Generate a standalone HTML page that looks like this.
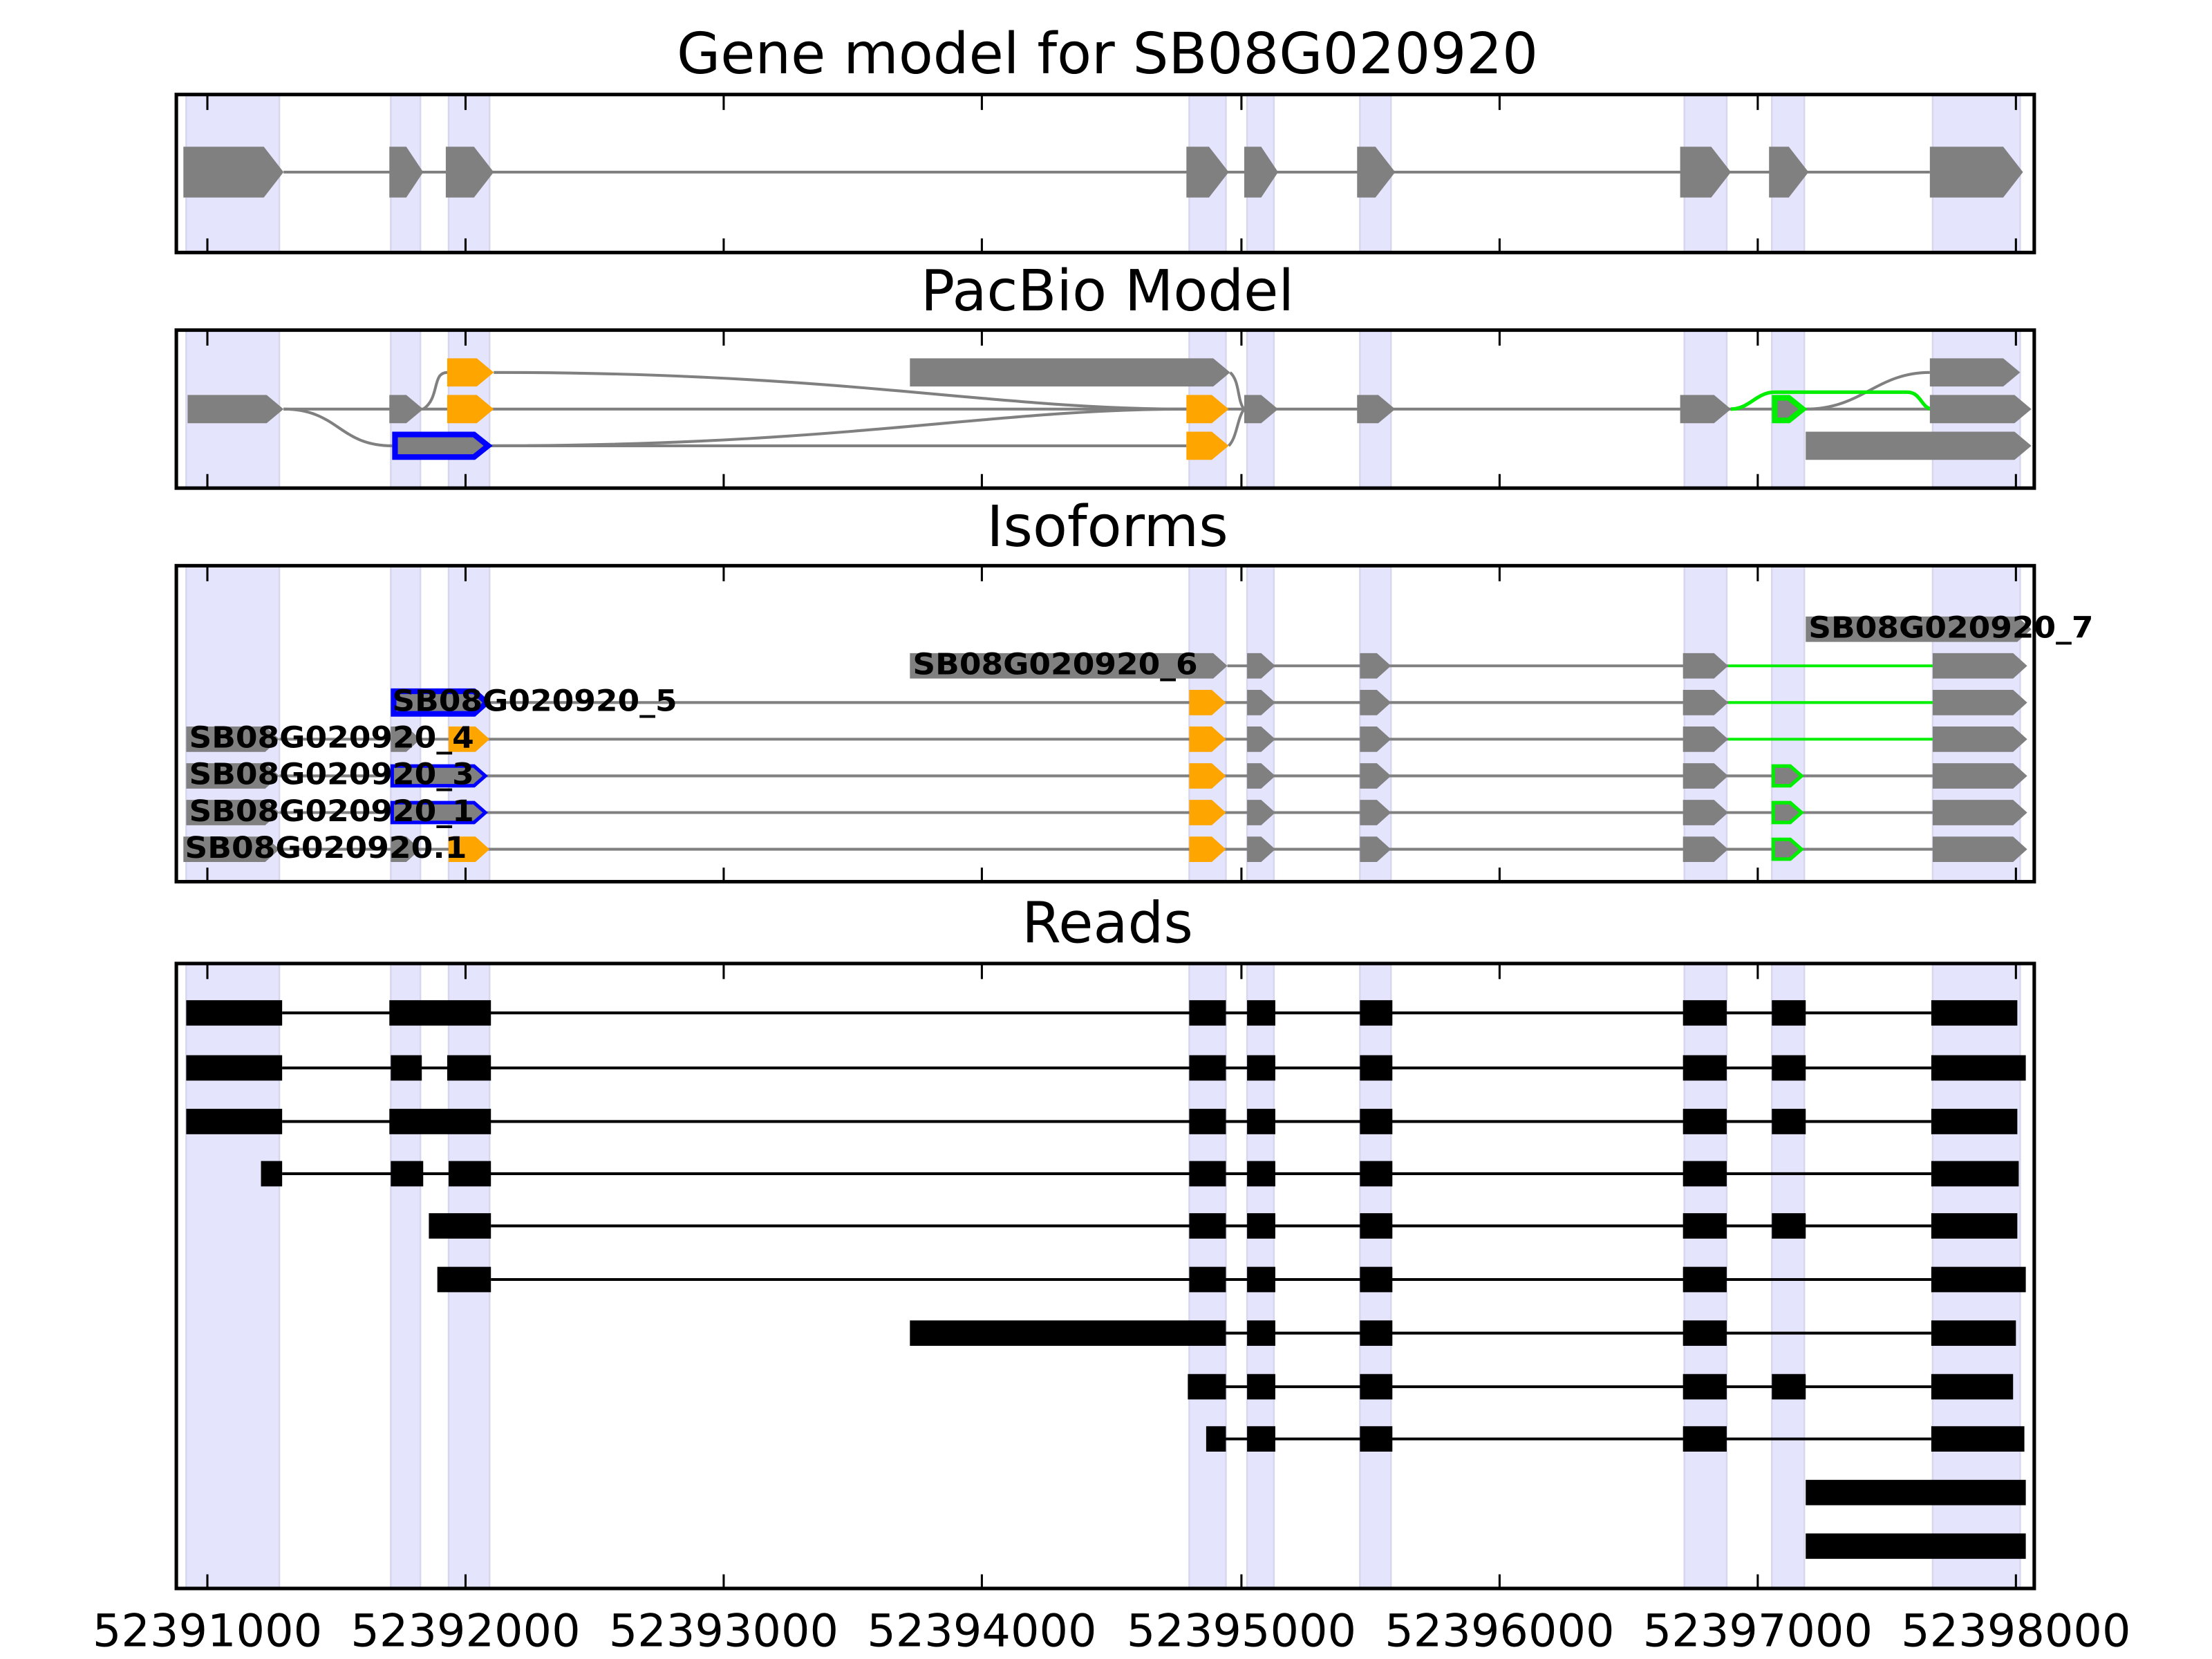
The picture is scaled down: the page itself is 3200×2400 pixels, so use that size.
<!DOCTYPE html>
<html><head><meta charset="utf-8"><style>html,body{margin:0;padding:0;background:#fff}svg{display:block}</style></head>
<body>
<svg xmlns="http://www.w3.org/2000/svg" width="3200" height="2400" viewBox="0 0 1568 1176" preserveAspectRatio="none">
<defs>
<clipPath id="panels">
<rect x="125" y="67" width="1317" height="112"/>
<rect x="125" y="234" width="1317" height="112"/>
<rect x="125" y="401" width="1317" height="224"/>
<rect x="125" y="683" width="1317" height="443"/>
</clipPath>
</defs>
<g fill="#e4e4fc" stroke="#d6d6ee" stroke-width="1.2" clip-path="url(#panels)">
<rect x="132" y="0" width="66" height="1176"/><rect x="277" y="0" width="21" height="1176"/><rect x="318" y="0" width="29" height="1176"/><rect x="843" y="0" width="26" height="1176"/><rect x="884" y="0" width="19" height="1176"/><rect x="964" y="0" width="22" height="1176"/><rect x="1194" y="0" width="30" height="1176"/><rect x="1256" y="0" width="23" height="1176"/><rect x="1370" y="0" width="62" height="1176"/>
</g>
<g font-family="DejaVu Sans, Liberation Sans, sans-serif" fill="#000" text-anchor="middle">
<text x="785" y="52" font-size="40">Gene model for SB08G020920</text>
<text x="785" y="220" font-size="40">PacBio Model</text>
<text x="785" y="387" font-size="40">Isoforms</text>
<text x="785" y="668" font-size="40">Reads</text>
<g font-size="32">
<text x="147" y="1167">52391000</text><text x="330" y="1167">52392000</text><text x="513" y="1167">52393000</text><text x="696" y="1167">52394000</text><text x="880" y="1167">52395000</text><text x="1063" y="1167">52396000</text><text x="1246" y="1167">52397000</text><text x="1429" y="1167">52398000</text>
</g></g>
<g stroke="#000" stroke-width="1.5">
<path d="M147,68v10M330,68v10M513,68v10M696,68v10M880,68v10M1063,68v10M1246,68v10M1429,68v10M147,179v-10M330,179v-10M513,179v-10M696,179v-10M880,179v-10M1063,179v-10M1246,179v-10M1429,179v-10"/>
<path transform="translate(0,167)" d="M147,68v10M330,68v10M513,68v10M696,68v10M880,68v10M1063,68v10M1246,68v10M1429,68v10M147,179v-10M330,179v-10M513,179v-10M696,179v-10M880,179v-10M1063,179v-10M1246,179v-10M1429,179v-10"/>
<path d="M147,402v10M330,402v10M513,402v10M696,402v10M880,402v10M1063,402v10M1246,402v10M1429,402v10M147,625v-10M330,625v-10M513,625v-10M696,625v-10M880,625v-10M1063,625v-10M1246,625v-10M1429,625v-10"/>
<path d="M147,684v10M330,684v10M513,684v10M696,684v10M880,684v10M1063,684v10M1246,684v10M1429,684v10M147,1126v-10M330,1126v-10M513,1126v-10M696,1126v-10M880,1126v-10M1063,1126v-10M1246,1126v-10M1429,1126v-10"/>
</g>

<!-- Panel 1 -->
<path d="M201,122H1368" stroke="#808080" stroke-width="2" fill="none"/>
<g fill="#808080">
<polygon points="130,104 187,104 201,122 187,140 130,140"/>
<polygon points="276,104 288,104 300,122 288,140 276,140"/>
<polygon points="316,104 336,104 350,122 336,140 316,140"/>
<polygon points="841,104 857,104 871,122 857,140 841,140"/>
<polygon points="882,104 894,104 906,122 894,140 882,140"/>
<polygon points="962,104 975,104 989,122 975,140 962,140"/>
<polygon points="1191,104 1213,104 1227,122 1213,140 1191,140"/>
<polygon points="1254,104 1268,104 1282,122 1268,140 1254,140"/>
<polygon points="1368,104 1420,104 1434,122 1420,140 1368,140"/>
</g>

<!-- Panel 2 -->
<g stroke="#808080" stroke-width="2" fill="none">
<path d="M201,290H1368"/>
<path d="M201,290 C240,290 240,316 278,316"/>
<path d="M300,290 C312,282 306,264 317,264"/>
<path d="M350,264 C600,264 700,290 841,290"/>
<path d="M348,316 C600,316 700,290 841,290"/>
<path d="M348,316 H841"/>
<path d="M872,264 C879,270 877,285 882,290"/>
<path d="M871,316 C877,310 877,296 882,290"/>
<path d="M1280,290 C1320,290 1330,264 1368,264"/>
</g>
<path d="M1227,290 C1240,290 1245,278 1258,278 L1352,278 C1362,278 1362,290 1370,290" stroke="#00ee00" stroke-width="2.5" fill="none"/>
<g fill="#808080">
<polygon points="645,254 860,254 872,264 860,274 645,274"/>
<polygon points="1368,254 1420,254 1432,264 1420,274 1368,274"/>
<polygon points="133,280 189,280 201,290 189,300 133,300"/>
<polygon points="276,280 288,280 300,290 288,300 276,300"/>
<polygon points="882,280 894,280 906,290 894,300 882,300"/>
<polygon points="962,280 977,280 989,290 977,300 962,300"/>
<polygon points="1191,280 1215,280 1227,290 1215,300 1191,300"/>
<polygon points="1368,280 1428,280 1440,290 1428,300 1368,300"/>
<polygon points="1280,306 1428,306 1440,316 1428,326 1280,326"/>
<polygon points="1258,282 1268,282 1278,290 1268,298 1258,298" stroke="#00ee00" stroke-width="4"/>
<polygon points="280,308 336,308 346,316 336,324 280,324" stroke="#0000ff" stroke-width="4"/>
</g>
<g fill="#ffa500">
<polygon points="317,254 338,254 350,264 338,274 317,274"/>
<polygon points="317,280 338,280 350,290 338,300 317,300"/>
<polygon points="841,280 859,280 871,290 859,300 841,300"/>
<polygon points="841,306 859,306 871,316 859,326 841,326"/>
</g>

<!-- Panel 3 -->
<g stroke="#808080" stroke-width="2" fill="none">
<path d="M870,472H1225"/>
<path d="M346,498H1225"/>
<path d="M198,524H1225"/>
<path d="M198,550H1370"/>
<path d="M198,576H1370"/>
<path d="M198,602H1370"/>
</g>
<g stroke="#00ee00" stroke-width="2" fill="none">
<path d="M1225,472H1370M1225,498H1370M1225,524H1370"/>
</g>
<g fill="#808080">
<polygon points="1280,437 1430,437 1440,446 1430,455 1280,455"/>
<polygon points="645,463 860,463 870,472 860,481 645,481"/>
<polygon points="132,515 188,515 198,524 188,533 132,533"/>
<polygon points="277,515 288,515 298,524 288,533 277,533"/>
<polygon points="132,541 188,541 198,550 188,559 132,559"/>
<polygon points="132,567 188,567 198,576 188,585 132,585"/>
<polygon points="130,593 188,593 198,602 188,611 130,611"/>
<polygon points="277,593 288,593 298,602 288,611 277,611"/>
</g>
<g id="tail" fill="#808080">
<polygon points="884,463 894,463 904,472 894,481 884,481"/>
<polygon points="964,463 976,463 986,472 976,481 964,481"/>
<polygon points="1193,463 1215,463 1225,472 1215,481 1193,481"/>
<polygon points="1370,463 1427,463 1437,472 1427,481 1370,481"/>
</g>
<use href="#tail" transform="translate(0,26)"/>
<use href="#tail" transform="translate(0,52)"/>
<use href="#tail" transform="translate(0,78)"/>
<use href="#tail" transform="translate(0,104)"/>
<use href="#tail" transform="translate(0,130)"/>
<g fill="#808080" stroke="#0000ff">
<polygon points="279,490 336,490 345,498 336,506 279,506" stroke-width="4"/>
<polygon points="278,543 336,543 344,550 336,557 278,557" stroke-width="2.5"/>
<polygon points="278,569 336,569 344,576 336,583 278,583" stroke-width="2.5"/>
</g>
<g fill="#808080" stroke="#00ee00" stroke-width="2.5">
<polygon points="1257,543 1269,543 1277,550 1269,557 1257,557"/>
<polygon points="1257,569 1269,569 1277,576 1269,583 1257,583"/>
<polygon points="1257,595 1269,595 1277,602 1269,609 1257,609"/>
</g>
<g fill="#ffa500">
<polygon points="318,515 337,515 347,524 337,533 318,533"/>
<polygon points="318,593 337,593 347,602 337,611 318,611"/>
<polygon points="843,489 859,489 869,498 859,507 843,507"/>
<polygon points="843,515 859,515 869,524 859,533 843,533"/>
<polygon points="843,541 859,541 869,550 859,559 843,559"/>
<polygon points="843,567 859,567 869,576 859,585 843,585"/>
<polygon points="843,593 859,593 869,602 859,611 843,611"/>
</g>
<g font-family="DejaVu Sans, Liberation Sans, sans-serif" font-weight="bold" font-size="21" fill="#000">
<text x="1282" y="452" textLength="202" lengthAdjust="spacingAndGlyphs">SB08G020920_7</text>
<text x="647" y="478" textLength="202" lengthAdjust="spacingAndGlyphs">SB08G020920_6</text>
<text x="278" y="504" textLength="202" lengthAdjust="spacingAndGlyphs">SB08G020920_5</text>
<text x="134" y="530" textLength="202" lengthAdjust="spacingAndGlyphs">SB08G020920_4</text>
<text x="134" y="556" textLength="202" lengthAdjust="spacingAndGlyphs">SB08G020920_3</text>
<text x="134" y="582" textLength="202" lengthAdjust="spacingAndGlyphs">SB08G020920_1</text>
<text x="131" y="608" textLength="200" lengthAdjust="spacingAndGlyphs">SB08G020920.1</text>
</g>

<!-- Panel 4 reads -->
<g fill="#000">
<path stroke="#000" stroke-width="2" d="M200,718H1369M200,757H1369M200,795H1369M200,832H1369M348,869H1369M348,907H1369M869,945H1369M869,983H1369M869,1020H1369"/>
<rect x="132" y="709" width="68" height="18"/><rect x="276" y="709" width="72" height="18"/><rect x="843" y="709" width="26" height="18"/><rect x="884" y="709" width="20" height="18"/><rect x="964" y="709" width="23" height="18"/><rect x="1193" y="709" width="31" height="18"/><rect x="1256" y="709" width="24" height="18"/><rect x="1369" y="709" width="61" height="18"/>
<rect x="132" y="748" width="68" height="18"/><rect x="277" y="748" width="22" height="18"/><rect x="317" y="748" width="31" height="18"/><rect x="843" y="748" width="26" height="18"/><rect x="884" y="748" width="20" height="18"/><rect x="964" y="748" width="23" height="18"/><rect x="1193" y="748" width="31" height="18"/><rect x="1256" y="748" width="24" height="18"/><rect x="1369" y="748" width="67" height="18"/>
<rect x="132" y="786" width="68" height="18"/><rect x="276" y="786" width="72" height="18"/><rect x="843" y="786" width="26" height="18"/><rect x="884" y="786" width="20" height="18"/><rect x="964" y="786" width="23" height="18"/><rect x="1193" y="786" width="31" height="18"/><rect x="1256" y="786" width="24" height="18"/><rect x="1369" y="786" width="61" height="18"/>
<rect x="185" y="823" width="15" height="18"/><rect x="277" y="823" width="23" height="18"/><rect x="318" y="823" width="30" height="18"/><rect x="843" y="823" width="26" height="18"/><rect x="884" y="823" width="20" height="18"/><rect x="964" y="823" width="23" height="18"/><rect x="1193" y="823" width="31" height="18"/><rect x="1369" y="823" width="62" height="18"/>
<rect x="304" y="860" width="44" height="18"/><rect x="843" y="860" width="26" height="18"/><rect x="884" y="860" width="20" height="18"/><rect x="964" y="860" width="23" height="18"/><rect x="1193" y="860" width="31" height="18"/><rect x="1256" y="860" width="24" height="18"/><rect x="1369" y="860" width="61" height="18"/>
<rect x="310" y="898" width="38" height="18"/><rect x="843" y="898" width="26" height="18"/><rect x="884" y="898" width="20" height="18"/><rect x="964" y="898" width="23" height="18"/><rect x="1193" y="898" width="31" height="18"/><rect x="1369" y="898" width="67" height="18"/>
<rect x="645" y="936" width="224" height="18"/><rect x="884" y="936" width="20" height="18"/><rect x="964" y="936" width="23" height="18"/><rect x="1193" y="936" width="31" height="18"/><rect x="1369" y="936" width="60" height="18"/>
<rect x="842" y="974" width="27" height="18"/><rect x="884" y="974" width="20" height="18"/><rect x="964" y="974" width="23" height="18"/><rect x="1193" y="974" width="31" height="18"/><rect x="1256" y="974" width="24" height="18"/><rect x="1369" y="974" width="58" height="18"/>
<rect x="855" y="1011" width="14" height="18"/><rect x="884" y="1011" width="20" height="18"/><rect x="964" y="1011" width="23" height="18"/><rect x="1193" y="1011" width="31" height="18"/><rect x="1369" y="1011" width="66" height="18"/>
<rect x="1280" y="1049" width="156" height="18"/>
<rect x="1280" y="1087" width="156" height="18"/>
</g>

<g fill="none" stroke="#000" stroke-width="2.5">
<rect x="125" y="67" width="1317" height="112"/>
<rect x="125" y="234" width="1317" height="112"/>
<rect x="125" y="401" width="1317" height="224"/>
<rect x="125" y="683" width="1317" height="443"/>
</g>
</svg>
</body></html>
